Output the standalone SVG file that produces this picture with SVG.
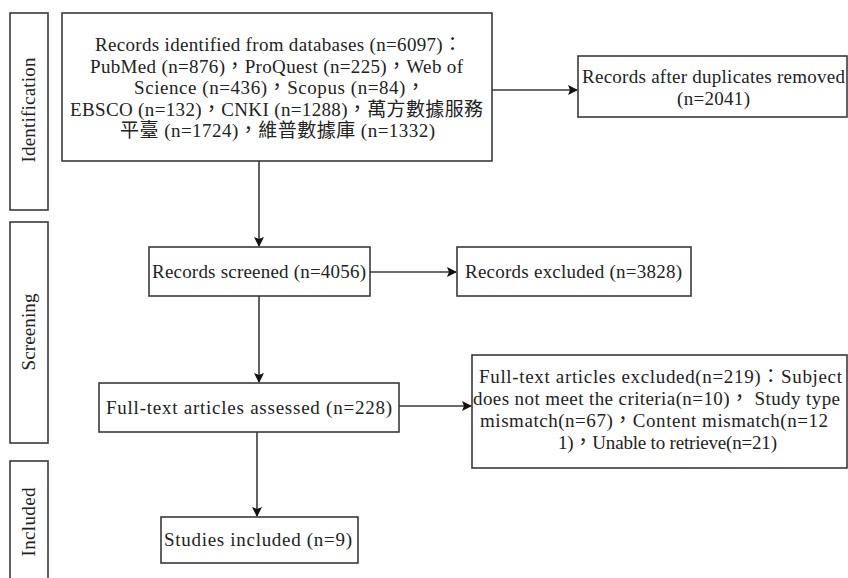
<svg xmlns="http://www.w3.org/2000/svg" width="848" height="578" viewBox="0 0 848 578">
<defs>
<style>
.box{fill:#fff;stroke:#3a3a3a;stroke-width:1.6}
.t{font-family:"Liberation Serif","Noto Sans CJK TC",serif;font-size:19px;fill:#222}
.m{text-anchor:middle}
.c{font-family:"Noto Sans CJK TC",sans-serif}
.ln{stroke:#3a3a3a;stroke-width:1.6;fill:none}
</style>
<marker id="ah" markerWidth="10" markerHeight="10" refX="9" refY="5" orient="auto" markerUnits="userSpaceOnUse">
<path d="M0,0 L10,5 L0,10 L2,5 Z" fill="#111"/>
</marker>
</defs>
<rect width="848" height="578" fill="#fff"/>
<g id="stage-identification">
<rect class="box" x="10" y="13" width="38" height="197"/>
<text class="t m" transform="translate(35,110) rotate(-90)" textLength="105" lengthAdjust="spacing">Identification</text>
</g>
<g id="stage-screening">
<rect class="box" x="10" y="222" width="38" height="221"/>
<text class="t m" transform="translate(35,332) rotate(-90)" textLength="77" lengthAdjust="spacing">Screening</text>
</g>
<g id="stage-included">
<rect class="box" x="10" y="461" width="38" height="130"/>
<text class="t m" transform="translate(35,522) rotate(-90)" textLength="69" lengthAdjust="spacing">Included</text>
</g>
<g id="connectors">
<line class="ln" x1="259" y1="161" x2="259" y2="246" marker-end="url(#ah)"/>
<line class="ln" x1="492" y1="90" x2="577" y2="90" marker-end="url(#ah)"/>
<line class="ln" x1="370" y1="272" x2="456" y2="272" marker-end="url(#ah)"/>
<line class="ln" x1="259" y1="296" x2="259" y2="382" marker-end="url(#ah)"/>
<line class="ln" x1="399" y1="406" x2="471" y2="406" marker-end="url(#ah)"/>
<line class="ln" x1="257" y1="432" x2="257" y2="516" marker-end="url(#ah)"/>
</g>
<g id="identified">
<rect class="box" x="62" y="13" width="430" height="148"/>
<text class="t" x="95" y="51" textLength="367" lengthAdjust="spacing">Records identified from databases (n=6097)<tspan class="c">：</tspan></text>
<text class="t" x="90" y="72.5" textLength="373" lengthAdjust="spacing">PubMed (n=876)<tspan class="c">，</tspan>ProQuest (n=225)<tspan class="c">，</tspan>Web of</text>
<text class="t" x="134" y="94" textLength="291" lengthAdjust="spacing">Science (n=436)<tspan class="c">，</tspan>Scopus (n=84)<tspan class="c">，</tspan></text>
<text class="t" x="70" y="115.5" textLength="413" lengthAdjust="spacing">EBSCO (n=132)<tspan class="c">，</tspan>CNKI (n=1288)<tspan class="c">，萬方數據服務</tspan></text>
<text class="t" x="120" y="137" textLength="315" lengthAdjust="spacing"><tspan class="c">平臺</tspan> (n=1724)<tspan class="c">，維普數據庫</tspan> (n=1332)</text>
</g>
<g id="dedup">
<rect class="box" x="578" y="56" width="269" height="61"/>
<text class="t" x="582" y="83" textLength="263" lengthAdjust="spacing">Records after duplicates removed</text>
<text class="t" x="677" y="105" textLength="73" lengthAdjust="spacing">(n=2041)</text>
</g>
<g id="screened">
<rect class="box" x="149" y="247" width="221" height="49"/>
<text class="t" x="152" y="278" textLength="214" lengthAdjust="spacing">Records screened (n=4056)</text>
</g>
<g id="excluded">
<rect class="box" x="457" y="247" width="234" height="49"/>
<text class="t" x="465" y="278" textLength="217" lengthAdjust="spacing">Records excluded (n=3828)</text>
</g>
<g id="assessed">
<rect class="box" x="99" y="383" width="300" height="49"/>
<text class="t" x="106" y="414" textLength="286" lengthAdjust="spacing">Full-text articles assessed (n=228)</text>
</g>
<g id="ft-excluded">
<rect class="box" x="472" y="355" width="375" height="113"/>
<text class="t" x="479" y="383" textLength="363" lengthAdjust="spacing">Full-text articles excluded(n=219)<tspan class="c">：</tspan>Subject</text>
<text class="t" x="473" y="405" textLength="367" lengthAdjust="spacing">does not meet the criteria(n=10)<tspan class="c">，</tspan> Study type</text>
<text class="t" x="480" y="427" textLength="348" lengthAdjust="spacing">mismatch(n=67)<tspan class="c">，</tspan>Content mismatch(n=12</text>
<text class="t" x="558" y="449" textLength="219" lengthAdjust="spacing">1)<tspan class="c">，</tspan>Unable to retrieve(n=21)</text>
</g>
<g id="included">
<rect class="box" x="161" y="517" width="197" height="46"/>
<text class="t" x="164" y="546" textLength="188" lengthAdjust="spacing">Studies included (n=9)</text>
</g>
</svg>
